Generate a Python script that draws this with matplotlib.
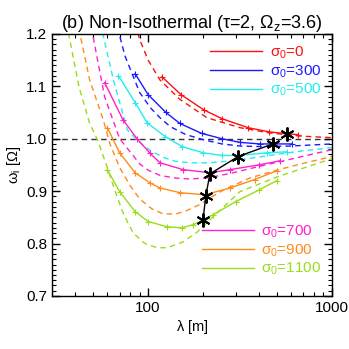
import numpy as np
import matplotlib
matplotlib.use("Agg")
import matplotlib.pyplot as plt
from matplotlib.ticker import MultipleLocator, FixedLocator, NullFormatter

plt.rcParams['font.family'] = ['Liberation Sans', 'DejaVu Sans']
plt.rcParams['mathtext.fontset'] = 'custom'
plt.rcParams['mathtext.rm'] = 'Liberation Sans'
plt.rcParams['mathtext.it'] = 'Liberation Sans'

sigmas = [0, 300, 500, 700, 900, 1100]
colors = ['#ff1010', '#1a1aff', '#22eeee', '#ff22cc', '#ff8c1a', '#99dd1a']

# solid curves (with + markers)
lam_solid = [
    [119, 151, 201, 253, 350, 455, 568, 653],
    [85, 100, 125, 149, 196, 252, 316, 406, 477, 606],
    [69, 85, 99, 124, 153, 200, 252, 309, 442, 568],
    [58, 73, 87, 102, 116, 155, 217, 279, 400, 523],
    [60, 70, 85, 102, 116, 149, 204, 279, 380, 502],
    [60, 70, 85, 100, 127, 153, 176, 199, 226, 300, 400, 502],
]
w_solid = [
    [1.118, 1.084, 1.055, 1.038, 1.021, 1.013, 1.0095, 1.0076],
    [1.124, 1.084, 1.050, 1.029, 1.010, 1.000, 0.993, 0.990, 0.990, 0.990],
    [1.120, 1.069, 1.030, 1.004, 0.985, 0.973, 0.968, 0.968, 0.973, 0.975],
    [1.107, 1.036, 1.000, 0.973, 0.954, 0.941, 0.935, 0.941, 0.950, 0.958],
    [1.021, 0.973, 0.935, 0.916, 0.906, 0.897, 0.893, 0.906, 0.922, 0.939],
    [0.941, 0.899, 0.861, 0.842, 0.832, 0.830, 0.836, 0.845, 0.855, 0.880, 0.902, 0.920],
]

# dashed curves
lam_dash = [
    [85, 90, 100, 116, 149, 209, 316, 460, 670, 1000],
    [66, 75, 90, 103, 116, 132, 160, 200, 252, 316, 400, 600, 1000],
    [55, 65, 77, 90, 102, 120, 140, 170, 210, 270, 350, 500, 700, 1000],
    [48, 58, 70, 90, 100, 116, 140, 170, 217, 290, 400, 550, 750, 1000],
    [42, 48, 57, 62, 70, 80, 90, 105, 120, 140, 160, 190, 217, 260, 358, 500, 700, 1000],
    [36, 42, 48, 53, 60, 65, 72, 77, 83, 96, 112, 127, 155, 185, 209, 316, 502, 1000],
]
w_dash = [
    [1.22, 1.189, 1.15, 1.112, 1.075, 1.040, 1.021, 1.011, 1.005, 1.002],
    [1.23, 1.157, 1.088, 1.059, 1.040, 1.023, 1.008, 0.998, 0.990, 0.986, 0.985, 0.986, 0.990],
    [1.22, 1.11, 1.017, 0.993, 0.978, 0.965, 0.957, 0.954, 0.954, 0.957, 0.962, 0.970, 0.977, 0.983],
    [1.23, 1.08, 1.000, 0.952, 0.940, 0.930, 0.925, 0.923, 0.926, 0.935, 0.947, 0.958, 0.969, 0.979],
    [1.21, 1.113, 1.036, 0.99, 0.945, 0.91, 0.885, 0.866, 0.857, 0.856, 0.862, 0.874, 0.887, 0.903, 0.925, 0.940, 0.953, 0.966],
    [1.22, 1.10, 1.03, 0.998, 0.945, 0.908, 0.864, 0.842, 0.82, 0.80, 0.792, 0.792, 0.803, 0.822, 0.84, 0.899, 0.927, 0.962],
]

# star points (minimum / turning points)
star_lam = [568, 477, 309, 217, 206, 199]
star_w = [1.0095, 0.990, 0.966, 0.933, 0.891, 0.845]

fig = plt.figure(figsize=(3.49, 3.49), dpi=100)
ax = fig.add_axes([0.149, 0.152, 0.802, 0.751])

ax.axhline(1.0, color='#333333', ls=(0, (4, 3)), lw=1.0, zorder=1)

handles = []
for i, s in enumerate(sigmas):
    ax.plot(lam_dash[i], w_dash[i], color=colors[i], ls=(0, (4, 3)), lw=1.0)
    h, = ax.plot(lam_solid[i], w_solid[i], color=colors[i], lw=1.0,
                 marker='+', ms=4, mew=0.8, label=r'$\sigma_0$=%d' % s)
    handles.append(h)

ax.plot(star_lam[1:], star_w[1:], color='black', lw=1.0, zorder=5)
ax.plot(star_lam, star_w, ls='none', marker=(6, 2, 0), ms=10, mew=1.4,
        color='black', zorder=6)

ax.set_xscale('log')
ax.set_xlim(30, 1000)
ax.set_ylim(0.7, 1.2)
ax.xaxis.set_major_locator(FixedLocator([100, 1000]))
ax.set_xticklabels(['100', '1000'])
ax.xaxis.set_minor_formatter(NullFormatter())
ax.yaxis.set_major_locator(MultipleLocator(0.1))
ax.yaxis.set_minor_locator(MultipleLocator(0.01))
ax.tick_params(which='both', direction='in', top=True, right=True, labelsize=11)
ax.tick_params(which='major', length=6, width=1.0)
ax.tick_params(which='minor', length=3, width=0.8)
for sp in ax.spines.values():
    sp.set_linewidth(1.0)

ax.set_xlabel(r'$\lambda$ [m]', fontsize=10.5, labelpad=2)
ax.set_ylabel(r'$\omega_i$ [$\Omega$]', fontsize=10.5, labelpad=2)
ax.set_title(r'(b) Non-Isothermal ($\tau$=2, $\Omega_z$=3.6)', fontsize=13, pad=4)

leg1 = ax.legend(handles=handles[:3], loc='upper right', frameon=False,
                 labelcolor='linecolor', handlelength=3.4, fontsize=11,
                 borderaxespad=0.3, handletextpad=0.5, labelspacing=0.15)
for lh in leg1.legend_handles:
    lh.set_marker('')
ax.add_artist(leg1)
leg2 = ax.legend(handles=handles[3:], loc='lower right', frameon=False,
                 labelcolor='linecolor', handlelength=3.4, fontsize=11,
                 borderaxespad=0.3, handletextpad=0.5, labelspacing=0.15,
                 bbox_to_anchor=(1.0, 0.03))
for lh in leg2.legend_handles:
    lh.set_marker('')

fig.savefig('out.png', dpi=100)
